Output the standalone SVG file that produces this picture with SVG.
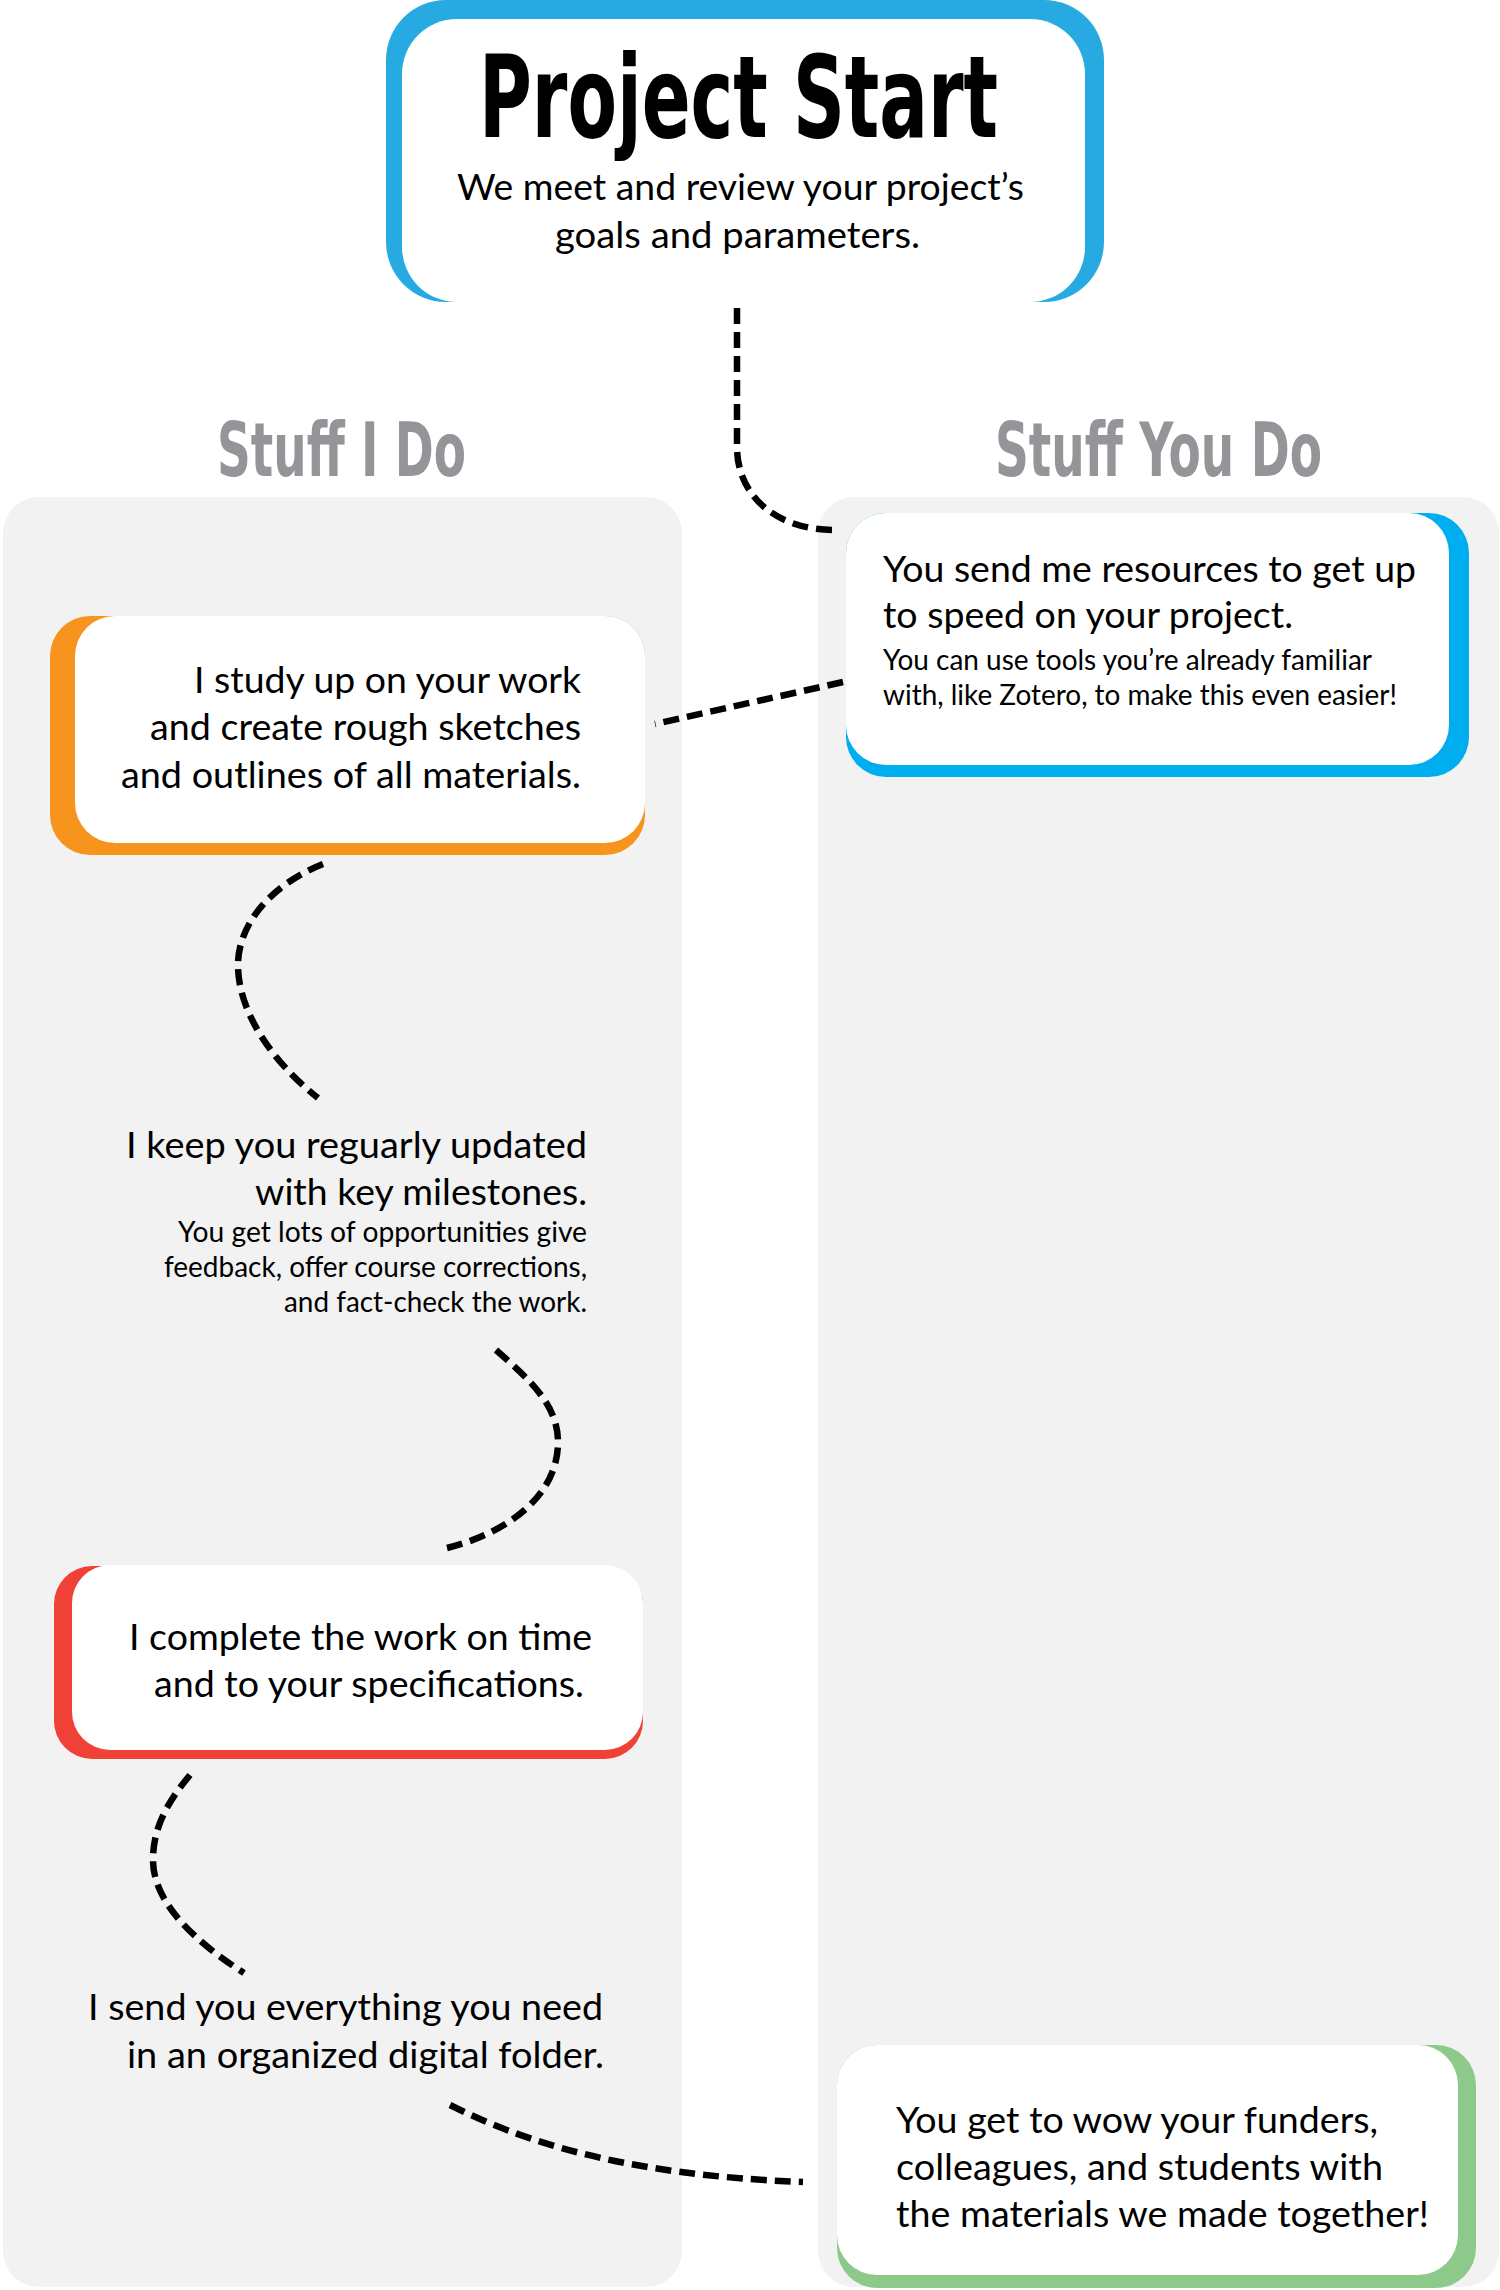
<svg xmlns="http://www.w3.org/2000/svg" width="1500" height="2290" viewBox="0 0 1500 2290">
<style>
.panel{fill:#f2f2f3}
.card{fill:#ffffff}
.conn{fill:none;stroke:#000;stroke-width:6.5;stroke-dasharray:16 8}
.title{font-family:"Liberation Sans Narrow","DejaVu Sans Condensed","Liberation Sans",sans-serif;font-weight:bold;fill:#000}
.head{font-family:"Liberation Sans Narrow","DejaVu Sans Condensed","Liberation Sans",sans-serif;font-weight:bold;fill:#939598;font-size:74px}
.body{font-family:Lato,"Liberation Sans",sans-serif;fill:#000;font-size:36px}
.small{font-family:Lato,"Liberation Sans",sans-serif;fill:#000;font-size:28px}
</style>
<rect x="0" y="0" width="1500" height="2290" fill="#ffffff"/>
<g id="lanes">
  <rect class="panel" x="3" y="497" width="679" height="1790" rx="36"/>
  <rect class="panel" x="818" y="497" width="681" height="1790" rx="36"/>
  <text class="head" x="217" y="476" textLength="249" lengthAdjust="spacingAndGlyphs">Stuff I Do</text>
  <text class="head" x="995" y="476" textLength="327" lengthAdjust="spacingAndGlyphs">Stuff You Do</text>
</g>
<g id="connectors">
  <path class="conn" d="M737,308 L737,447 C737,495 775,530 835,530"/>
  <path class="conn" d="M843,682 L655,724"/>
  <path class="conn" d="M323,864 C270,885 238,925 238,965 C238,1010 270,1060 318,1098"/>
  <path class="conn" d="M496,1350 C530,1380 558,1405 558,1442 C558,1500 500,1535 447,1548"/>
  <path class="conn" d="M190,1775 C165,1805 153,1830 153,1860 C153,1905 200,1945 244,1973"/>
  <path class="conn" d="M450,2105 C520,2140 620,2175 803,2182"/>
</g>
<g id="project-start">
  <rect x="386" y="0" width="718" height="302" rx="60" fill="#27aae1"/>
  <rect class="card" x="402" y="19" width="683" height="283" rx="55"/>
  <text class="title" x="479" y="137" font-size="114" textLength="519" lengthAdjust="spacingAndGlyphs">Project Start</text>
  <text class="body" x="457" y="200" textLength="567" lengthAdjust="spacingAndGlyphs">We meet and review your project’s</text>
  <text class="body" x="555" y="248" textLength="365" lengthAdjust="spacingAndGlyphs">goals and parameters.</text>
</g>
<g id="study">
  <rect x="50" y="616" width="595" height="239" rx="40" fill="#f7941d"/>
  <rect class="card" x="75" y="616" width="570" height="227" rx="40"/>
  <text class="body" x="194" y="693" textLength="387" lengthAdjust="spacingAndGlyphs">I study up on your work</text>
  <text class="body" x="150" y="740" textLength="431" lengthAdjust="spacingAndGlyphs">and create rough sketches</text>
  <text class="body" x="121" y="788" textLength="460" lengthAdjust="spacingAndGlyphs">and outlines of all materials.</text>
</g>
<g id="resources">
  <rect x="846" y="513" width="623" height="264" rx="40" fill="#00aeef"/>
  <rect class="card" x="846" y="513" width="603" height="252" rx="40"/>
  <text class="body" x="883" y="582" textLength="533" lengthAdjust="spacingAndGlyphs">You send me resources to get up</text>
  <text class="body" x="883" y="628" textLength="410" lengthAdjust="spacingAndGlyphs">to speed on your project.</text>
  <text class="small" x="883" y="670" textLength="489" lengthAdjust="spacingAndGlyphs">You can use tools you’re already familiar</text>
  <text class="small" x="883" y="705" textLength="514" lengthAdjust="spacingAndGlyphs">with, like Zotero, to make this even easier!</text>
</g>
<g id="milestones">
  <text class="body" x="126" y="1158" textLength="461" lengthAdjust="spacingAndGlyphs">I keep you reguarly updated</text>
  <text class="body" x="255" y="1205" textLength="332" lengthAdjust="spacingAndGlyphs">with key milestones.</text>
  <text class="small" x="178" y="1242" textLength="409" lengthAdjust="spacingAndGlyphs">You get lots of opportunities give</text>
  <text class="small" x="164" y="1277" textLength="423" lengthAdjust="spacingAndGlyphs">feedback, offer course corrections,</text>
  <text class="small" x="284" y="1312" textLength="303" lengthAdjust="spacingAndGlyphs">and fact-check the work.</text>
</g>
<g id="complete">
  <rect x="54" y="1566" width="589" height="193" rx="38" fill="#ef4136"/>
  <rect class="card" x="72" y="1565" width="571" height="185" rx="38"/>
  <text class="body" x="129" y="1650" textLength="463" lengthAdjust="spacingAndGlyphs">I complete the work on time</text>
  <text class="body" x="154" y="1697" textLength="430" lengthAdjust="spacingAndGlyphs">and to your specifications.</text>
</g>
<g id="folder">
  <text class="body" x="88" y="2020" textLength="515" lengthAdjust="spacingAndGlyphs">I send you everything you need</text>
  <text class="body" x="127" y="2068" textLength="477" lengthAdjust="spacingAndGlyphs">in an organized digital folder.</text>
</g>
<g id="wow">
  <rect x="837" y="2045" width="639" height="243" rx="40" fill="#8dc98a"/>
  <rect class="card" x="837" y="2045" width="621" height="230" rx="40"/>
  <text class="body" x="896" y="2133" textLength="482" lengthAdjust="spacingAndGlyphs">You get to wow your funders,</text>
  <text class="body" x="896" y="2180" textLength="487" lengthAdjust="spacingAndGlyphs">colleagues, and students with</text>
  <text class="body" x="896" y="2227" textLength="533" lengthAdjust="spacingAndGlyphs">the materials we made together!</text>
</g>
</svg>
